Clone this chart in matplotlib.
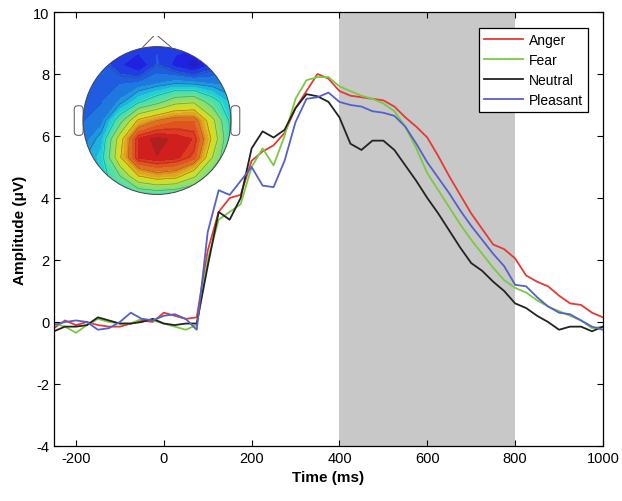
import numpy as np
import matplotlib
matplotlib.use('Agg')
import matplotlib.pyplot as plt
from matplotlib.colors import ListedColormap
from matplotlib.patches import Circle, Polygon, FancyBboxPatch

plt.rcParams['font.family'] = ['Liberation Sans', 'DejaVu Sans']
plt.rcParams['axes.unicode_minus'] = False

# ERP waveforms (ms, microvolts)
t = [-250, -225, -200, -175, -150, -125, -100, -75, -50, -25, 0, 25, 50, 75,
     100, 125, 150, 175, 200, 225, 250, 275, 300, 325, 350, 375, 400, 425,
     450, 475, 500, 525, 550, 575, 600, 625, 650, 675, 700, 725, 750, 775,
     800, 825, 850, 875, 900, 925, 950, 975, 1000]

anger = [-0.2, 0.05, -0.1, 0.0, -0.1, -0.15, -0.15, -0.05, 0.05, 0.0, 0.3, 0.2, 0.1, 0.15,
         2.3, 3.55, 4.0, 4.1, 5.2, 5.5, 5.7, 6.1, 6.9, 7.45, 8.0, 7.85, 7.45, 7.3,
         7.25, 7.2, 7.15, 6.95, 6.6, 6.3, 5.95, 5.35, 4.7, 4.1, 3.5, 3.0, 2.5, 2.35,
         2.05, 1.5, 1.3, 1.15, 0.85, 0.6, 0.55, 0.3, 0.15]

fear = [-0.05, -0.15, -0.35, -0.1, 0.1, 0.0, -0.05, -0.05, 0.1, 0.05, -0.05, -0.15, -0.25, -0.1,
        2.0, 3.3, 3.55, 3.8, 5.0, 5.6, 5.05, 6.0, 7.2, 7.8, 7.9, 7.9, 7.6, 7.45,
        7.3, 7.2, 7.05, 6.8, 6.3, 5.6, 4.8, 4.25, 3.7, 3.15, 2.65, 2.2, 1.75, 1.35,
        1.1, 0.95, 0.7, 0.5, 0.35, 0.2, 0.05, -0.2, -0.15]

neutral = [-0.3, -0.15, -0.15, -0.1, 0.15, 0.05, -0.05, -0.05, 0.0, 0.1, -0.05, -0.1, -0.05, -0.05,
           1.8, 3.55, 3.3, 4.0, 5.6, 6.15, 5.95, 6.2, 6.9, 7.35, 7.28, 7.1, 6.6, 5.75,
           5.55, 5.85, 5.85, 5.55, 5.05, 4.55, 4.0, 3.5, 2.95, 2.4, 1.9, 1.65, 1.3, 1.0,
           0.6, 0.45, 0.2, 0.0, -0.25, -0.15, -0.15, -0.3, -0.15]

pleasant = [-0.1, 0.0, 0.05, 0.0, -0.25, -0.2, 0.0, 0.3, 0.1, 0.05, 0.2, 0.25, 0.1, -0.25,
            2.9, 4.25, 4.1, 4.55, 5.0, 4.4, 4.35, 5.2, 6.45, 7.2, 7.25, 7.4, 7.1, 7.0,
            6.95, 6.8, 6.75, 6.65, 6.3, 5.75, 5.15, 4.65, 4.15, 3.6, 3.1, 2.65, 2.2, 1.8,
            1.2, 1.15, 0.8, 0.5, 0.3, 0.25, 0.05, -0.15, -0.25]

labels = ['Anger', 'Fear', 'Neutral', 'Pleasant']
colors = ['#e53935', '#7ac943', '#222222', '#5560c8']

window = [400, 800]  # shaded analysis window

# scalp map values on a 9x9 grid (head radius = 1, top row = front)
grid_x = [-1, -0.75, -0.5, -0.25, 0, 0.25, 0.5, 0.75, 1]
grid_y = [1, 0.75, 0.5, 0.25, 0, -0.25, -0.5, -0.75, -1]
topo = [[2.3, 2.3, 2.0, 1.8, 1.9, 1.7, 1.6, 2.0, 2.3],
        [2.3, 2.2, 1.6, 1.1, 2.0, 1.4, 0.9, 1.7, 2.3],
        [2.3, 2.3, 2.3, 2.4, 2.7, 3.0, 2.9, 2.7, 2.6],
        [2.3, 2.3, 2.8, 3.9, 4.7, 5.7, 5.9, 4.5, 3.3],
        [2.3, 2.5, 4.6, 7.2, 8.0, 8.5, 8.5, 6.3, 3.7],
        [2.4, 3.3, 6.6, 9.4, 9.9, 9.6, 9.3, 6.8, 3.9],
        [2.9, 3.7, 6.9, 9.4, 9.7, 9.5, 8.8, 6.0, 3.7],
        [3.2, 3.5, 5.0, 7.0, 7.6, 7.4, 6.2, 4.5, 3.5],
        [3.4, 3.5, 3.7, 4.1, 4.3, 4.1, 3.8, 3.5, 3.4]]

fig = plt.figure(figsize=(6.22, 5.02), dpi=100)
ax = fig.add_axes([0.0868, 0.1096, 0.8826, 0.8645])

ax.axvspan(window[0], window[1], color='#c8c8c8', lw=0, zorder=0)
for y, lab, c in zip([anger, fear, neutral, pleasant], labels, colors):
    ax.plot(t, y, color=c, lw=1.3, label=lab)

ax.set_xlim(-250, 1000)
ax.set_ylim(-4, 10)
ax.set_xticks([-200, 0, 200, 400, 600, 800, 1000])
ax.set_yticks([-4, -2, 0, 2, 4, 6, 8, 10])
ax.tick_params(direction='in', top=True, right=True, labelsize=10.5, length=4)
ax.set_xlabel('Time (ms)', fontsize=11, fontweight='bold')
ax.set_ylabel('Amplitude (μV)', fontsize=11, fontweight='bold')
for s in ax.spines.values():
    s.set_linewidth(0.9)

leg = ax.legend(loc='upper right', bbox_to_anchor=(0.972, 0.962), borderaxespad=0,
                fancybox=False, edgecolor='black', framealpha=1, fontsize=10,
                handlelength=2.8, labelspacing=0.42, handletextpad=0.4, borderpad=0.35)
leg.get_frame().set_linewidth(0.9)

# scalp map inset, jet toned down like the print
jet = plt.get_cmap('jet')(np.linspace(0, 1, 256))
jet[:, :3] = jet[:, :3] * 0.76 + 0.12
muted = ListedColormap(jet)

tax = fig.add_axes([0.1158, 0.5886, 0.2733, 0.3386])
tax.set_xlim(-1.15, 1.15)
tax.set_ylim(-1.15, 1.15)
tax.set_aspect('equal')
tax.axis('off')

X, Y = np.meshgrid(grid_x, grid_y)
Z = np.array(topo)
head = Circle((0, 0), 1.0, transform=tax.transData)
cf = tax.contourf(X, Y, Z, levels=np.linspace(0, 10.5, 28), cmap=muted)
cl = tax.contour(X, Y, Z, levels=np.linspace(1, 10, 10), colors='#333333',
                 linewidths=0.4, alpha=0.5)
cf.set_clip_path(head)
cl.set_clip_path(head)

tax.add_patch(Circle((0, 0), 1.0, fill=False, ec='#444444', lw=0.7))
tax.add_patch(Polygon([[-0.2, 0.985], [-0.02, 1.17], [0.2, 0.985]], closed=False,
                      fill=False, ec='#555555', lw=0.7))
for ex in [-1.12, 1.0]:
    tax.add_patch(FancyBboxPatch((ex, -0.2), 0.12, 0.4, boxstyle='round,pad=0,rounding_size=0.05',
                                 fill=False, ec='#555555', lw=0.7))

fig.savefig('out.png', dpi=100)
